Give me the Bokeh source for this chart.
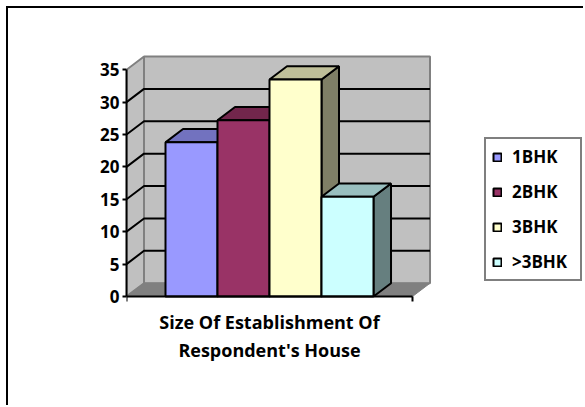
from math import pi

from bokeh.plotting import figure
from bokeh.models import (Range1d, LinearAxis, FixedTicker, Legend, LegendItem,
                          ColumnDataSource)
from bokeh.core.properties import value
from bokeh.embed import file_html
from bokeh.resources import INLINE

# ---- data -------------------------------------------------------------
categories = ["1BHK", "2BHK", "3BHK", ">3BHK"]
values = [23.8, 27.2, 33.5, 15.4]
y_ticks = [0, 5, 10, 15, 20, 25, 30, 35]
x_title_lines = ["Size Of Establishment Of", "Respondent's House"]

front_colors = ["#9999FF", "#993366", "#FFFFCC", "#CCFFFF"]

# ---- 3-D box geometry (x: one unit per bar, y: value units) -----------
BAR = 1.0                 # bar width
EDGE = 0.75               # empty floor left/right of the group
FLOOR = 2 * EDGE + BAR * len(values)
DX, DY = 0.337, 2.05      # depth offset of the back plane
Y_MAX = y_ticks[-1]
X_END = 8.827
Y_START, Y_END = -17.14, 37.36

FONT = "Open Sans"
OFF = 8                   # chart area frame: margin + border width


def shade(hex_color, f):
    h = hex_color.lstrip("#")
    r, g, b = (int(h[i:i + 2], 16) for i in (0, 2, 4))
    return "#%02x%02x%02x" % (int(r * f), int(g * f), int(b * f))


p = figure(width=585 - OFF, height=407 - OFF, output_backend="svg",
           toolbar_location=None,
           x_range=Range1d(0, X_END), y_range=Range1d(Y_START, Y_END),
           x_axis_type=None, y_axis_type=None,
           min_border_left=126 - OFF, min_border_right=0,
           min_border_top=54 - OFF, min_border_bottom=0,
           styles={"margin-left": "6px", "margin-top": "6px",
                   "border-left": "2px solid black",
                   "border-top": "2px solid black"})
p.outline_line_color = None
p.xgrid.visible = False
p.ygrid.visible = False
p.background_fill_color = "white"
p.border_fill_color = "white"

# walls and floor
p.patch([0, DX, DX, 0], [0, DY, Y_MAX + DY, Y_MAX],
        fill_color="#C0C0C0", line_color="#808080", line_width=2)
p.patch([DX, DX + FLOOR, DX + FLOOR, DX], [DY, DY, Y_MAX + DY, Y_MAX + DY],
        fill_color="#C0C0C0", line_color="#808080", line_width=2)
p.patch([0, FLOOR, FLOOR + DX, DX], [0, 0, DY, DY],
        fill_color="#808080", line_color="#808080", line_width=1)

# gridlines across the side wall and back wall
grid_xs = [[0, DX, DX + FLOOR] for v in y_ticks[1:-1]]
grid_ys = [[v, v + DY, v + DY] for v in y_ticks[1:-1]]
p.multi_line(grid_xs, grid_ys, line_color="black", line_width=2)

# bars, drawn left to right so each one hides the side of the previous
fronts = []
for i, (v, c) in enumerate(zip(values, front_colors)):
    x0 = EDGE + i * BAR
    x1 = x0 + BAR
    p.patch([x1, x1 + DX, x1 + DX, x1], [0, DY, v + DY, v],
            fill_color=shade(c, 0.5), line_color="black", line_width=2)
    p.patch([x0, x1, x1 + DX, x0 + DX], [v, v, v + DY, v + DY],
            fill_color=shade(c, 0.75), line_color="black", line_width=2)
    r = p.quad(left=x0, right=x1, bottom=0, top=v,
               fill_color=c, line_color="black", line_width=2)
    fronts.append(r)

# category axis: front edge of the floor with end ticks and a centred title
p.line([0, FLOOR], [0, 0], line_color="black", line_width=2)
p.ray(x=[0, FLOOR], y=[0, 0], length=5, length_units="screen",
      angle=-pi / 2, line_color="black", line_width=2)
title_src = ColumnDataSource(dict(
    x=[FLOOR / 2] * len(x_title_lines),
    y=[0] * len(x_title_lines),
    text=x_title_lines,
    dy=[26 + 28 * k for k in range(len(x_title_lines))],
))
p.text(x="x", y="y", text="text", y_offset="dy", source=title_src,
       text_align="center", text_baseline="alphabetic",
       text_font=value(FONT), text_font_style="bold",
       text_font_size="18px", text_color="black")

# value axis along the front edge of the side wall
ya = LinearAxis(bounds=(0, Y_MAX), ticker=FixedTicker(ticks=y_ticks))
ya.axis_line_width = 2
ya.major_tick_line_width = 2
ya.major_tick_out = 4
ya.major_tick_in = 0
ya.minor_tick_out = 0
ya.minor_tick_in = 0
ya.major_label_standoff = 3
ya.major_label_text_font = FONT
ya.major_label_text_font_style = "bold"
ya.major_label_text_font_size = "17px"
ya.major_label_text_color = "black"
p.add_layout(ya, "left")

legend = Legend(items=[LegendItem(label=c, renderers=[r]) for c, r in zip(categories, fronts)],
                location=(358, 126))
legend.border_line_color = "black"
legend.border_line_width = 2
legend.background_fill_color = "white"
legend.background_fill_alpha = 1
legend.padding = 6
legend.margin = 0
legend.spacing = 12
legend.glyph_width = 10
legend.glyph_height = 10
legend.label_standoff = 10
legend.label_height = 20
legend.label_width = 62
legend.label_text_font = FONT
legend.label_text_font_style = "bold"
legend.label_text_font_size = "17px"
legend.label_text_color = "black"
p.add_layout(legend, "center")

open("out.html", "w").write(file_html(p, INLINE))
